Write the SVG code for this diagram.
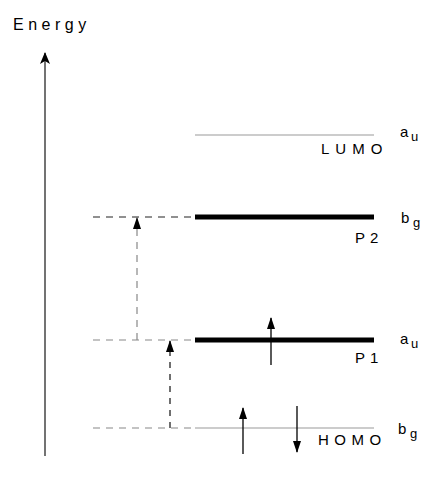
<svg xmlns="http://www.w3.org/2000/svg" width="425" height="483" viewBox="0 0 425 483">
<style>
text{font-family:"Liberation Sans",Arial,sans-serif;fill:#000}
.lbl{font-size:15px;letter-spacing:6px}
.sym{font-size:15px}
.sub{font-size:13px}
.thick{stroke:#000;stroke-width:5}
.thin{stroke:#999;stroke-width:1.2}
.dash{stroke-width:1.2;stroke-dasharray:7,6;fill:none}
</style>
<defs>
<marker id="ah" viewBox="0 0 12 10" markerWidth="12" markerHeight="10" refX="11" refY="5" orient="auto" markerUnits="userSpaceOnUse">
<path d="M0,0 L12,5 L0,10 L3,5 Z" fill="#000"/>
</marker>
<marker id="ahs" viewBox="0 0 12 8" markerWidth="12" markerHeight="8" refX="11" refY="4" orient="auto" markerUnits="userSpaceOnUse">
<path d="M0,0 L12,4 L0,8 Z" fill="#000"/>
</marker>
</defs>
<g id="axis">
<line x1="45" y1="456" x2="45" y2="53" stroke="#444" stroke-width="1.5" marker-end="url(#ah)"/>
<text x="13" y="30" style="font-size:16px;letter-spacing:4.5px">Energy</text>
</g>
<g id="lumo">
<line x1="195" y1="135" x2="374" y2="135" class="thin"/>
<text x="321" y="154" class="lbl">LUMO</text>
<text x="400" y="137" class="sym">a</text><text x="411" y="141" class="sub">u</text>
</g>
<g id="p2">
<line x1="195" y1="217" x2="374" y2="217" class="thick"/>
<text x="355" y="243" class="lbl" style="letter-spacing:5px">P2</text>
<text x="401" y="223" class="sym">b</text><text x="413" y="227" class="sub">g</text>
</g>
<g id="p1">
<line x1="195" y1="340" x2="374" y2="340" class="thick"/>
<text x="355" y="363" class="lbl" style="letter-spacing:5px">P1</text>
<text x="400" y="344" class="sym">a</text><text x="411" y="348" class="sub">u</text>
<line x1="271" y1="365" x2="271" y2="318" stroke="#000" stroke-width="1.3" marker-end="url(#ahs)"/>
</g>
<g id="homo">
<line x1="195" y1="428" x2="374" y2="428" class="thin"/>
<text x="318" y="445" class="lbl" style="letter-spacing:5.5px">HOMO</text>
<text x="398" y="434" class="sym">b</text><text x="410" y="438" class="sub">g</text>
<line x1="243" y1="454" x2="243" y2="408" stroke="#000" stroke-width="1.3" marker-end="url(#ahs)"/>
<line x1="297" y1="406" x2="297" y2="452" stroke="#000" stroke-width="1.3" marker-end="url(#ahs)"/>
</g>
<g id="connectors">
<line x1="93" y1="217" x2="195" y2="217" class="dash" stroke="#222"/>
<line x1="93" y1="340" x2="195" y2="340" class="dash" stroke="#888"/>
<line x1="93" y1="428" x2="195" y2="428" class="dash" stroke="#888"/>
<line x1="137" y1="340" x2="137" y2="218" class="dash" stroke="#888" marker-end="url(#ahs)"/>
<line x1="170" y1="428" x2="170" y2="341" stroke="#222" stroke-width="1.3" stroke-dasharray="6,6" marker-end="url(#ahs)"/>
</g>
</svg>
